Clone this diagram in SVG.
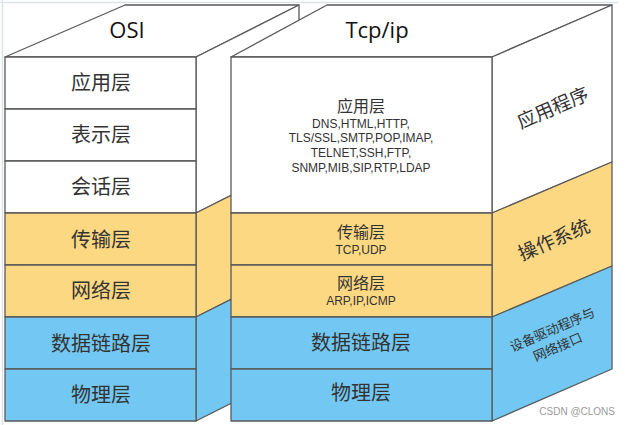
<svg xmlns="http://www.w3.org/2000/svg" width="631" height="425" viewBox="0 0 631 425">
<style>
.ln{stroke:#5a5a5a;stroke-width:1.3;stroke-linejoin:round}
.w{fill:#ffffff}
.y{fill:#fdd882}
.b{fill:#72c8f2}
.cj{font-family:"Noto Sans CJK SC","Noto Sans",sans-serif;fill:#333;text-anchor:middle}
.en{font-family:"Liberation Sans",Arial,sans-serif;fill:#333;text-anchor:middle}
.ttl{font-family:"Open Sans","Noto Sans",sans-serif;font-size:22px;fill:#111;text-anchor:middle}
.big{font-size:20px}
.mid{font-size:16px}
.pr{font-size:12px}
</style>
<rect x="0" y="0" width="631" height="425" fill="#ffffff"/>
<g id="frame" stroke="#dde3ea" stroke-width="1.5" fill="none">
<line x1="0" y1="2.5" x2="618" y2="2.5"/>
<line x1="2.5" y1="0" x2="2.5" y2="425"/>
</g>
<g id="osi">
<polygon class="ln w" points="5,57 196,57 299,5 125,5"/>
<polygon class="ln w" points="196,57 299,5 299,161 196,213"/>
<polygon class="ln y" points="196,213 299,161 299,265 196,317"/>
<polygon class="ln b" points="196,317 299,265 299,369 196,421"/>
<rect class="ln w" x="5" y="57" width="191" height="52"/>
<rect class="ln w" x="5" y="109" width="191" height="52"/>
<rect class="ln w" x="5" y="161" width="191" height="52"/>
<rect class="ln y" x="5" y="213" width="191" height="52"/>
<rect class="ln y" x="5" y="265" width="191" height="52"/>
<rect class="ln b" x="5" y="317" width="191" height="52"/>
<rect class="ln b" x="5" y="369" width="191" height="52"/>
<text class="ttl" x="127" y="38">OSI</text>
<text class="cj big" x="101" y="90">应用层</text>
<text class="cj big" x="101" y="142">表示层</text>
<text class="cj big" x="101" y="194">会话层</text>
<text class="cj big" x="101" y="247">传输层</text>
<text class="cj big" x="101" y="298">网络层</text>
<text class="cj big" x="101" y="351">数据链路层</text>
<text class="cj big" x="101" y="402">物理层</text>
</g>
<g id="tcpip">
<polygon class="ln w" points="231,57 492,57 612,5 327,5"/>
<polygon class="ln w" points="492,57 612,5 612,162 492,213"/>
<polygon class="ln y" points="492,213 612,162 612,266 492,317"/>
<polygon class="ln b" points="492,317 612,266 612,369 492,421"/>
<rect class="ln w" x="231" y="57" width="261" height="156"/>
<rect class="ln y" x="231" y="213" width="261" height="52"/>
<rect class="ln y" x="231" y="265" width="261" height="52"/>
<rect class="ln b" x="231" y="317" width="261" height="52"/>
<rect class="ln b" x="231" y="369" width="261" height="52"/>
<text class="ttl" x="377" y="38">Tcp/ip</text>
<text class="cj mid" x="361" y="112">应用层</text>
<text class="en pr" x="361" y="128">DNS,HTML,HTTP,</text>
<text class="en pr" x="361" y="142">TLS/SSL,SMTP,POP,IMAP,</text>
<text class="en pr" x="361" y="157">TELNET,SSH,FTP,</text>
<text class="en pr" x="361" y="172">SNMP,MIB,SIP,RTP,LDAP</text>
<text class="cj mid" x="361" y="238">传输层</text>
<text class="en pr" x="361" y="254">TCP,UDP</text>
<text class="cj mid" x="361" y="289">网络层</text>
<text class="en pr" x="361" y="305">ARP,IP,ICMP</text>
<text class="cj big" x="361" y="350">数据链路层</text>
<text class="cj big" x="361" y="400">物理层</text>
<g transform="translate(553,108) rotate(-23.4)"><text class="cj" font-size="19" x="0" y="6.5">应用程序</text></g>
<g transform="translate(554,240) rotate(-23.4)"><text class="cj" font-size="19" x="0" y="6.5">操作系统</text></g>
<g transform="translate(556,338) rotate(-23.4)">
<text class="cj" font-size="13" x="0" y="-4.5">设备驱动程序与</text>
<text class="cj" font-size="13" x="-2" y="13.5">网络接口</text>
</g>
</g>
<text x="615" y="415" font-family="'Liberation Sans',Arial,sans-serif" font-size="10" fill="#9a9a9a" text-anchor="end">CSDN @CLONS</text>
</svg>
